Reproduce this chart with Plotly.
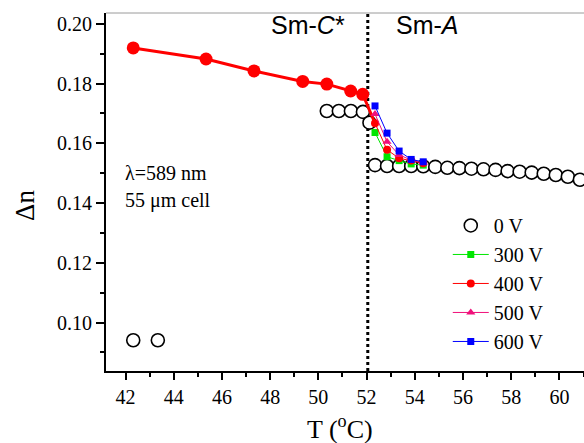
import plotly.graph_objects as go

# Birefringence vs temperature across the Sm-C* / Sm-A transition
t_smc = [42.32, 45.34, 47.33, 49.35, 50.35, 51.34, 51.84]
dn_smc = [0.1919, 0.1882, 0.1842, 0.1807, 0.1798, 0.1775, 0.1764]

t_0v = [42.32, 43.34, 50.35, 50.85, 51.35, 51.85, 52.12,
        52.35, 52.85, 53.35, 53.85, 54.35, 54.85, 55.35, 55.85, 56.35,
        56.85, 57.35, 57.85, 58.35, 58.85, 59.35, 59.85, 60.35, 60.85]
dn_0v = [0.0941, 0.0941, 0.1708, 0.1708, 0.1708, 0.1705, 0.1669,
         0.1527, 0.1524, 0.1524, 0.1524, 0.1523, 0.1521, 0.1518, 0.1517, 0.1515,
         0.1513, 0.1511, 0.1507, 0.1505, 0.1502, 0.1498, 0.1494, 0.1488, 0.1478]

t_field = [52.35, 52.85, 53.35, 53.85, 54.35]
dn_300 = [0.1636, 0.1555, 0.1542, 0.1531, 0.1527]
dn_400 = [0.1667, 0.1578, 0.1550, 0.1542, 0.1533]
dn_500 = [0.1698, 0.1605, 0.1561, 0.1544, 0.1535]
dn_600 = [0.1725, 0.1634, 0.1574, 0.1546, 0.1538]

x_tick_vals = [42, 44, 46, 48, 50, 52, 54, 56, 58, 60]
y_tick_vals = [0.10, 0.12, 0.14, 0.16, 0.18, 0.20]

t_transition = 52.05

serif = "Liberation Serif"
sans = "Liberation Sans"

fig = go.Figure()

fig.add_trace(go.Scatter(
    x=t_0v, y=dn_0v, mode="markers", name="0 V",
    marker=dict(symbol="circle", size=13, color="white", opacity=1,
                line=dict(color="black", width=1.6)),
))

# Sm-C* branch (thick red), joined to the first 400 V point
fig.add_trace(go.Scatter(
    x=t_smc + [t_field[0]], y=dn_smc + [dn_400[0]], mode="lines+markers",
    showlegend=False,
    line=dict(color="#ff0000", width=3),
    marker=dict(symbol="circle", size=[13] * len(t_smc) + [0], color="#ff0000",
                opacity=1, line=dict(color="#ff0000", width=0)),
))

series = [
    ("300 V", dn_300, "#00e600", "square", 7),
    ("400 V", dn_400, "#ff0000", "circle", 8),
    ("500 V", dn_500, "#f0107a", "triangle-up", 8),
    ("600 V", dn_600, "#0000ff", "square", 7),
]
for name, vals, col, sym, sz in series:
    fig.add_trace(go.Scatter(
        x=t_field, y=vals, mode="lines+markers", name=name,
        line=dict(color=col, width=1),
        marker=dict(symbol=sym, size=sz, color=col, opacity=1),
    ))

fig.add_shape(type="line", xref="x", yref="paper", x0=t_transition, x1=t_transition,
              y0=0, y1=1, line=dict(color="black", width=3, dash="dot"), layer="below")
fig.add_shape(type="line", xref="paper", yref="paper", x0=0, x1=1, y0=1, y1=1,
              line=dict(color="#9a9a9a", width=1))

tick_font = dict(family=serif, size=20, color="black")

annotations = [
    dict(x=49.57, y=0.1995, xref="x", yref="y", text="Sm-<i>C</i>*",
         font=dict(family=sans, size=25, color="black"), showarrow=False),
    dict(x=54.53, y=0.1995, xref="x", yref="y", text="Sm-<i>A</i>",
         font=dict(family=sans, size=25, color="black"), showarrow=False),
    dict(x=41.9, y=0.1500, xref="x", yref="y", xanchor="left", text="λ=589 nm",
         font=dict(family=serif, size=20, color="black"), showarrow=False),
    dict(x=41.9, y=0.1410, xref="x", yref="y", xanchor="left", text="55 μm cell",
         font=dict(family=serif, size=20, color="black"), showarrow=False),
    dict(x=0.4895, y=-0.159, xref="paper", yref="paper", text="T (<sup>o</sup>C)",
         xanchor="center", yanchor="middle",
         font=dict(family=serif, size=26, color="black"), showarrow=False),
    dict(x=-0.1695, y=0.4637, xref="paper", yref="paper", text="Δn", textangle=-90,
         xanchor="center", yanchor="middle",
         font=dict(family=serif, size=27, color="black"), showarrow=False),
]

fig.update_layout(
    template="none",
    width=584, height=443,
    margin=dict(l=106, r=0, t=13, b=72),
    paper_bgcolor="white", plot_bgcolor="white",
    font=dict(family=serif, size=20, color="black"),
    annotations=annotations,
    legend=dict(x=0.715, y=0.461, xanchor="left", yanchor="top",
                font=dict(family=serif, size=20, color="black"),
                bgcolor="rgba(0,0,0,0)", itemwidth=36, tracegroupgap=0),
    xaxis=dict(range=[41.19, 61.02], tickvals=x_tick_vals, ticks="outside",
               ticklen=7, tickwidth=2, tickcolor="black", tickfont=tick_font,
               showline=True, linecolor="black", linewidth=2, showgrid=False,
               zeroline=False,
               minor=dict(dtick=1, tick0=42, ticks="outside", ticklen=4,
                          tickwidth=2, tickcolor="black", showgrid=False)),
    yaxis=dict(range=[0.0838, 0.2036], tickvals=y_tick_vals, tickformat=".2f",
               ticks="outside", ticklen=8, tickwidth=2, tickcolor="black",
               tickfont=tick_font,
               showline=True, linecolor="black", linewidth=2, showgrid=False,
               zeroline=False,
               minor=dict(dtick=0.01, tick0=0.10, ticks="outside", ticklen=4,
                          tickwidth=2, tickcolor="black", showgrid=False)),
)

fig.write_html("out.html")
